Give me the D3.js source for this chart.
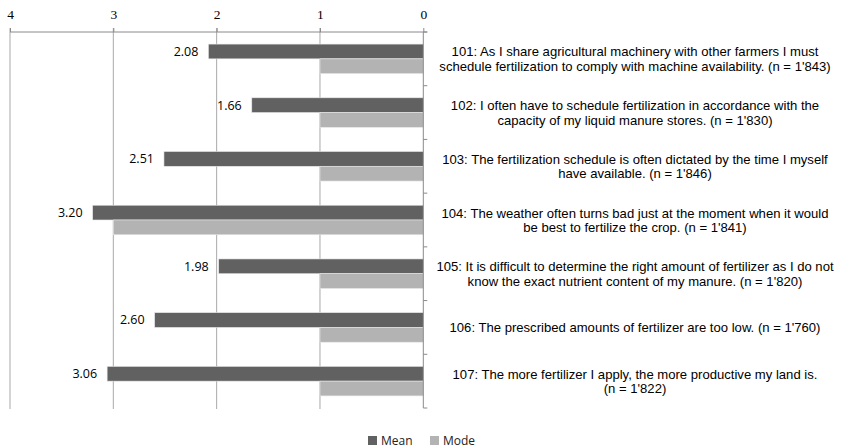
<!DOCTYPE html>
<html>
<head>
<meta charset="utf-8">
<script src="https://cdn.jsdelivr.net/npm/d3@7"></script>
<style>
  body { margin: 0; background: #fff; }
  svg { display: block; }
</style>
</head>
<body>
<svg id="chart" width="848" height="448"></svg>
<script>
// chart data
var categories = ["101", "102", "103", "104", "105", "106", "107"];
var labels = [
    ["101: As I share agricultural machinery with other farmers I must", "schedule fertilization to comply with machine availability. (n = 1'843)"],
    ["102: I often have to schedule fertilization in accordance with the", "capacity of my liquid manure stores. (n = 1'830)"],
    ["103: The fertilization schedule is often dictated by the time I myself", "have available. (n = 1'846)"],
    ["104: The weather often turns bad just at the moment when it would", "be best to fertilize the crop. (n = 1'841)"],
    ["105: It is difficult to determine the right amount of fertilizer as I do not", "know the exact nutrient content of my manure. (n = 1'820)"],
    ["106: The prescribed amounts of fertilizer are too low. (n = 1'760)"],
    ["107: The more fertilizer I apply, the more productive my land is.", "(n = 1'822)"]
];
var meanValues = [2.08, 1.66, 2.51, 3.20, 1.98, 2.60, 3.06];
var modeValues = [1, 1, 1, 3, 1, 1, 1];
var xTicks = [0, 1, 2, 3, 4];
var seriesNames = ["Mean", "Mode"];
var colors = { Mean: "#616161", Mode: "#b3b3b3" };

var svg = d3.select("#chart");

// plot area (window.top is read-only, so no "top" here)
var plotLeft = 10, plotRight = 423.3, plotTop = 32, plotBottom = 408;

// reversed x scale, 0 on the right
var x = d3.scaleLinear().domain([0, 4]).range([plotRight, plotLeft]);

var y = d3.scaleBand().domain(categories).range([plotTop, plotBottom])
    .paddingInner(0.45).paddingOuter(0.225);
var yFull = d3.scaleBand().domain(categories).range([plotTop, plotBottom]);
var ySub = d3.scaleBand().domain(seriesNames).range([0, y.bandwidth()]);

// vertical gridlines
svg.append("g").selectAll("line")
    .data(xTicks.filter(function (d) { return d != 0; }))
    .enter().append("line")
    .attr("x1", function (d) { return x(d); })
    .attr("x2", function (d) { return x(d); })
    .attr("y1", plotTop - 4).attr("y2", plotBottom + 1)
    .attr("stroke", "#a9a9a9").attr("stroke-width", 1);

// top axis
var xAxis = svg.append("g")
    .attr("transform", "translate(0," + plotTop + ")")
    .call(d3.axisTop(x).tickValues(xTicks).tickFormat(d3.format("d")).tickSize(4).tickPadding(9));
xAxis.select(".domain").remove();
xAxis.append("line")
    .attr("x1", plotLeft).attr("x2", plotRight + 4)
    .attr("stroke", "#8a8a8a");
xAxis.selectAll(".tick line").attr("stroke", "#8a8a8a");
xAxis.selectAll(".tick text")
    .attr("fill", "#000")
    .style("font-family", "'Liberation Serif', 'DejaVu Serif', serif")
    .style("font-size", "13.5px");

// bars
var rows = categories.map(function (c, i) {
    return { cat: c, Mean: meanValues[i], Mode: modeValues[i] };
});

var groups = svg.append("g").selectAll("g")
    .data(rows).enter().append("g")
    .attr("transform", function (d) { return "translate(0," + y(d.cat) + ")"; });

groups.selectAll("rect")
    .data(function (d) { return seriesNames.map(function (s) { return { key: s, value: d[s] }; }); })
    .enter().append("rect")
    .attr("x", function (d) { return x(d.value); })
    .attr("y", function (d) { return ySub(d.key); })
    .attr("width", function (d) { return x(0) - x(d.value); })
    .attr("height", ySub.bandwidth())
    .attr("fill", function (d) { return colors[d.key]; })
    .attr("stroke", "#e8e8e8").attr("stroke-width", 0.6);

// mean value labels
groups.append("text")
    .attr("x", function (d) { return x(d.Mean) - 10; })
    .attr("y", ySub("Mean") + ySub.bandwidth() / 2)
    .attr("dy", "0.35em")
    .attr("text-anchor", "end")
    .style("font-family", "'Open Sans', 'Liberation Sans', sans-serif")
    .style("font-size", "12.5px")
    .text(function (d) { return d.Mean.toFixed(2); });

// right axis (category axis)
var yAxis = svg.append("g");
yAxis.append("line")
    .attr("x1", plotRight).attr("x2", plotRight)
    .attr("y1", plotTop).attr("y2", plotBottom)
    .attr("stroke", "#8a8a8a");
yAxis.selectAll(".tk")
    .data(categories.concat(["end"]))
    .enter().append("line")
    .attr("x1", plotRight).attr("x2", plotRight + 4)
    .attr("y1", function (d, i) { return plotTop + i * yFull.step(); })
    .attr("y2", function (d, i) { return plotTop + i * yFull.step(); })
    .attr("stroke", "#8a8a8a");

// category labels
var labelG = svg.append("g").selectAll("text")
    .data(categories).enter().append("text")
    .attr("text-anchor", "middle")
    .style("font-family", "'Liberation Sans', Arial, sans-serif")
    .style("font-size", "13.1px")
    .attr("fill", "#000");
labelG.each(function (d, i) {
    var lines = labels[i];
    var cy = yFull(d) + yFull.bandwidth() / 2;
    var start = cy - (lines.length - 1) * 7 + 4.5;
    d3.select(this).selectAll("tspan")
        .data(lines).enter().append("tspan")
        .attr("x", 635)
        .attr("y", function (l, j) { return start + j * 14.5; })
        .text(function (l) { return l; });
});

// legend
var legend = svg.append("g").attr("transform", "translate(368,436)");
var legendX = [0, 62];
seriesNames.forEach(function (s, i) {
    legend.append("rect")
        .attr("x", legendX[i]).attr("y", 0)
        .attr("width", 9).attr("height", 9)
        .attr("fill", colors[s]);
    legend.append("text")
        .attr("x", legendX[i] + 13).attr("y", 9)
        .style("font-family", "'Open Sans', 'Liberation Sans', sans-serif")
        .style("font-size", "12px")
        .attr("fill", "#222")
        .text(s);
});
</script>
</body>
</html>
